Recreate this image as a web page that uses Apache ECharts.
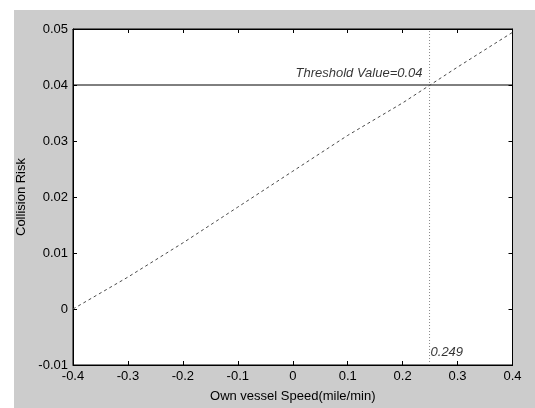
<!DOCTYPE html>
<html>
<head>
<meta charset="utf-8">
<script src="https://cdn.jsdelivr.net/npm/echarts@6/dist/echarts.min.js"></script>
<style>
  html, body { margin: 0; padding: 0; background: #fff; }
  #chart { width: 535px; height: 408px; }
</style>
</head>
<body>
<div id="chart"></div>
<script>
// Own vessel speed (mile/min) and the resulting collision risk
const speeds = [-0.4, -0.3, -0.2, -0.1, 0, 0.1, 0.2, 0.3, 0.4];
const risk = [0, 0.0057, 0.0118, 0.0182, 0.0246, 0.0310, 0.0368, 0.0432, 0.0494];

// Risk threshold and the speed at which it is reached
const threshold = 0.04;
const thresholdSpeed = 0.249;

// Axis ranges and tick steps
const xRange = [-0.4, 0.4];
const xStep = 0.1;
const yRange = [-0.01, 0.05];
const yStep = 0.01;

const FONT = '"Liberation Sans", Arial, sans-serif';

function fmt(v) {
  const r = Math.round(v * 1000) / 1000;
  return r === 0 ? '0' : String(r);
}

const chart = echarts.init(document.getElementById('chart'), null, { renderer: 'canvas' });

const baseX = {
  type: 'value', min: xRange[0], max: xRange[1], interval: xStep,
  splitLine: { show: false },
  axisLine: { show: true, onZero: false, lineStyle: { color: '#000', width: 1 } },
  axisTick: { show: true, inside: true, length: 4, lineStyle: { color: '#000' } }
};
const baseY = {
  type: 'value', min: yRange[0], max: yRange[1], interval: yStep,
  splitLine: { show: false },
  axisLine: { show: true, onZero: false, lineStyle: { color: '#000', width: 1 } },
  axisTick: { show: true, inside: true, length: 4, lineStyle: { color: '#000' } }
};

chart.setOption({
  animation: false,
  backgroundColor: '#fff',
  textStyle: { fontFamily: FONT },
  graphic: [{
    type: 'rect', z: -10, silent: true,
    shape: { x: 14, y: 10, width: 521, height: 398 },
    style: { fill: '#cccccc' }
  }],
  grid: {
    left: 73, top: 29, right: 22.5, bottom: 33.7,
    show: true, backgroundColor: '#fff', borderColor: '#000', borderWidth: 1
  },
  xAxis: [
    Object.assign({}, baseX, {
      position: 'bottom',
      name: 'Own vessel Speed(mile/min)',
      nameLocation: 'middle', nameGap: 25,
      nameTextStyle: { color: '#000', fontSize: 13, fontFamily: FONT },
      axisLabel: { color: '#000', fontSize: 13, margin: 5, fontFamily: FONT, formatter: fmt }
    }),
    Object.assign({}, baseX, { position: 'top', axisLabel: { show: false } })
  ],
  yAxis: [
    Object.assign({}, baseY, {
      position: 'left',
      name: 'Collision Risk',
      nameLocation: 'middle', nameGap: 39,
      nameTextStyle: { color: '#000', fontSize: 13, fontFamily: FONT },
      axisLabel: { color: '#000', fontSize: 13, margin: 5, fontFamily: FONT, formatter: fmt }
    }),
    Object.assign({}, baseY, { position: 'right', axisLabel: { show: false } })
  ],
  series: [
    {
      // collision risk vs. speed, dashed
      type: 'line',
      data: speeds.map((s, i) => [s, risk[i]]),
      showSymbol: false,
      lineStyle: { color: '#4a4a4a', width: 1, type: [3, 3] },
      z: 3
    },
    {
      // horizontal threshold line
      type: 'line',
      data: [[xRange[0], threshold], [xRange[1], threshold]],
      showSymbol: false,
      lineStyle: { color: '#000', width: 1 },
      z: 2
    },
    {
      // vertical dotted marker at the threshold speed
      type: 'line',
      data: [[thresholdSpeed, yRange[0]], [thresholdSpeed, yRange[1]]],
      showSymbol: false,
      lineStyle: { color: '#8a8a8a', width: 1, type: [1, 2] },
      z: 2
    },
    {
      // text annotations anchored to the threshold point
      type: 'scatter',
      symbolSize: 0,
      data: [
        {
          value: [thresholdSpeed, threshold],
          label: {
            show: true, formatter: 'Threshold Value=' + threshold,
            position: 'left', distance: 0, offset: [-7, -12],
            color: '#000', fontSize: 13, fontStyle: 'italic', fontFamily: FONT
          }
        },
        {
          value: [thresholdSpeed, yRange[0]],
          label: {
            show: true, formatter: String(thresholdSpeed),
            position: 'right', distance: 0, offset: [1, -13],
            color: '#000', fontSize: 13, fontStyle: 'italic', fontFamily: FONT
          }
        }
      ],
      z: 4
    }
  ]
});
</script>
</body>
</html>
